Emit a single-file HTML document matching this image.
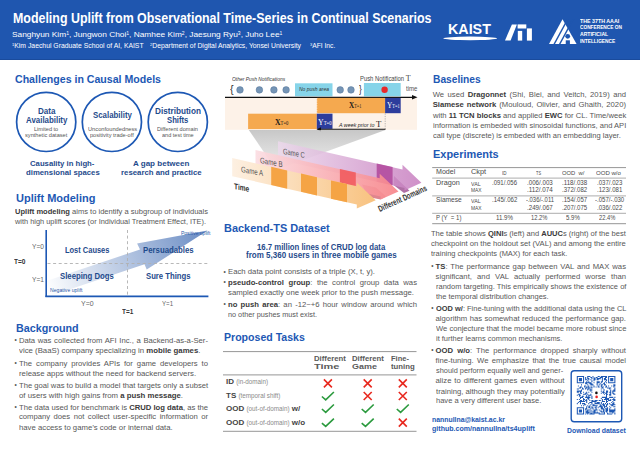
<!DOCTYPE html>
<html><head><meta charset="utf-8"><style>
html,body{margin:0;padding:0;}
body{width:640px;height:453px;position:relative;overflow:hidden;background:#fff;font-family:'Liberation Sans',sans-serif;}
.t{position:absolute;white-space:nowrap;line-height:1;transform-origin:0 0;}
.t b{font-weight:700;color:#3a3a3a;}
svg{position:absolute;left:0;top:0;}
</style></head><body>

<div style="position:absolute;left:0;top:0;width:640px;height:59px;background:#1f56af"></div>
<div style="position:absolute;left:0;top:59px;width:640px;height:1px;background:#1a4b9c"></div>
<svg width="640" height="60" style="position:absolute;left:0;top:0"><ellipse cx="470.2" cy="38.4" rx="26.9" ry="1.8" fill="#fff"/><polygon points="505,40.6 510.6,40.6 516.9,24.4 511.9,24.4" fill="#fff"/><rect x="517.6" y="24.4" width="8.7" height="4.1" fill="#fff"/><rect x="517.8" y="30.9" width="4.4" height="9.7" fill="#fff"/><rect x="526.9" y="28.4" width="5" height="12.2" fill="#fff"/><polygon points="562.5,19.2 549,43.9 576.6,43.9" fill="#fff"/><g fill="#1f56af"><polygon points="553.3,44.2 554.9,44.2 568.6,19 567,19"/><polygon points="558.8,44.2 560.4,44.2 574.1,19 572.5,19"/><circle cx="567.7" cy="36.3" r="2.4"/><rect x="565.75" y="40.3" width="4.15" height="4"/></g></svg>
<svg width="640" height="453"><circle cx="46.2" cy="121.9" r="29.6" fill="none" stroke="#1d58b4" stroke-width="1.7"/><circle cx="111.9" cy="121.9" r="29.6" fill="none" stroke="#1d58b4" stroke-width="1.7"/><circle cx="177.8" cy="121.9" r="29.6" fill="none" stroke="#1d58b4" stroke-width="1.7"/></svg>
<svg width="640" height="453"><defs><linearGradient id="ag" x1="47" y1="292" x2="207" y2="231" gradientUnits="userSpaceOnUse"><stop offset="0" stop-color="#ffffff"/><stop offset="1" stop-color="#6a8cc4"/></linearGradient></defs><polygon points="47,280.7 140,249.5 137.1,243.6 207.6,230.6 146.7,269.5 144.5,264.3 47,296.9" fill="url(#ag)"/><line x1="47.5" y1="263.5" x2="208.5" y2="263.5" stroke="#b0b0b0" stroke-width="0.9" stroke-dasharray="3,2.6"/><line x1="127.5" y1="230" x2="127.5" y2="296" stroke="#b0b0b0" stroke-width="0.9" stroke-dasharray="3,2.6"/><line x1="46.2" y1="230" x2="46.2" y2="297" stroke="#1d58b4" stroke-width="1.6"/><line x1="45.4" y1="296.4" x2="208.4" y2="296.4" stroke="#1d58b4" stroke-width="1.6"/></svg>
<svg width="640" height="453"><defs><linearGradient id="gf" x1="0" y1="0" x2="0" y2="1"><stop offset="0" stop-color="#bdbdbd" stop-opacity="0.85"/><stop offset="1" stop-color="#d8d8d8" stop-opacity="0.5"/></linearGradient><linearGradient id="gc" x1="278" y1="0" x2="421" y2="0" gradientUnits="userSpaceOnUse"><stop offset="0" stop-color="#ecd9ec"/><stop offset="1" stop-color="#c77dbf"/></linearGradient><linearGradient id="gb" x1="255" y1="0" x2="398" y2="0" gradientUnits="userSpaceOnUse"><stop offset="0" stop-color="#fbdde2"/><stop offset="1" stop-color="#f7858a"/></linearGradient><linearGradient id="ga" x1="232" y1="0" x2="376" y2="0" gradientUnits="userSpaceOnUse"><stop offset="0" stop-color="#fdf0e2"/><stop offset="1" stop-color="#f8c27f"/></linearGradient><marker id="mk" markerWidth="4" markerHeight="4" refX="3.5" refY="2" orient="auto"><path d="M0,0 L4,2 L0,4 z" fill="#111"/></marker></defs><rect x="225" y="97.8" width="192" height="32" fill="#fdf2e8"/><rect x="295" y="83.3" width="37.5" height="13" fill="#86d4e9"/><rect x="363.9" y="83" width="36.8" height="13.3" fill="#86d4e9"/><circle cx="240" cy="89.9" r="3.3" fill="#7595b6" stroke="#56779a" stroke-width="0.5"/><circle cx="259.4" cy="89.9" r="3.3" fill="#7595b6" stroke="#56779a" stroke-width="0.5"/><circle cx="273.9" cy="89.9" r="3.3" fill="#7595b6" stroke="#56779a" stroke-width="0.5"/><circle cx="286.1" cy="89.9" r="3.3" fill="#7595b6" stroke="#56779a" stroke-width="0.5"/><circle cx="340.2" cy="89.9" r="3.3" fill="#7595b6" stroke="#56779a" stroke-width="0.5"/><circle cx="351" cy="89.9" r="3.3" fill="#7595b6" stroke="#56779a" stroke-width="0.5"/><circle cx="384.6" cy="89.8" r="3.2" fill="#e8282a"/><line x1="225" y1="97.3" x2="413" y2="97.3" stroke="#111" stroke-width="1.2"/><polygon points="412,95 417.5,97.3 412,99.6" fill="#111"/><rect x="316.8" y="97.9" width="68.3" height="15.3" fill="#f5a94f"/><rect x="385.1" y="97.9" width="15.6" height="15.3" fill="#2d3d9c"/><rect x="248.1" y="113.7" width="68.7" height="15.4" fill="#f5a94f"/><rect x="316.8" y="113.7" width="15.7" height="15.2" fill="#2d3d9c"/><line x1="316.9" y1="98" x2="316.9" y2="113" stroke="#fff" stroke-width="0.6" stroke-dasharray="1.2,1.2"/><line x1="385.2" y1="113.5" x2="385.2" y2="129" stroke="#888" stroke-width="0.6" stroke-dasharray="1.2,1.2"/><line x1="320" y1="129.3" x2="385.5" y2="129.3" stroke="#111" stroke-width="1.1"/><polygon points="321,127.2 316.5,129.3 321,131.4" fill="#111"/><polygon points="248.8,129.9 385.4,129.9 276,170" fill="url(#gf)"/><polygon points="394,176 409.5,190.8 404,193 393.5,185" fill="#9c4c90" opacity="0.8"/><polygon points="278,141.2 402.5,169.5 402.5,164.8 421.4,182.7 404.5,190.6 404.5,188 278,159.5" fill="url(#gc)" opacity="0.85"/><polygon points="376.7,163.4 392.6,167 392.6,185.3 376.7,181.7" fill="#b24d9e" opacity="0.9"/><polygon points="362,184.5 376,187.5 386,196.5 380.6,199.6 368,197" fill="#d9707a" opacity="0.85"/><polygon points="255.5,150 379.7,178.2 379.7,173.7 398.5,191.6 380.6,199.6 380.6,196.5 255.5,168.3" fill="url(#gb)" opacity="0.92"/><polygon points="339.9,169 355.8,172.6 355.8,190.8 339.9,187.2" fill="#f15b5e" opacity="0.9"/><polygon points="232.2,158 356.8,186.3 356.8,182.7 375.7,200.2 356.8,208.5 356.8,204.5 232.2,176.2" fill="url(#ga)"/><polygon points="271.2,166.85 287.2,170.49 287.2,188.69 271.2,185.05" fill="#f5a445"/><polygon points="301,173.62 317,177.25 317,195.45 301,191.82" fill="#f5a445"/><polygon points="331,180.43 347,184.06 347,202.26 331,198.63" fill="#f5a445"/></svg>
<svg width="640" height="453"><line x1="223" y1="351.6" x2="416.5" y2="351.6" stroke="#8a8a8a" stroke-width="0.9"/><line x1="223" y1="374.9" x2="416.5" y2="374.9" stroke="#8a8a8a" stroke-width="0.9"/><line x1="223" y1="431.3" x2="416.5" y2="431.3" stroke="#8a8a8a" stroke-width="0.9"/><path d="M323.9,379.4 L331.9,387.4 M331.9,379.4 L323.9,387.4" fill="none" stroke="#e8281e" stroke-width="1.6"/><path d="M363.7,379.4 L371.7,387.4 M371.7,379.4 L363.7,387.4" fill="none" stroke="#e8281e" stroke-width="1.6"/><path d="M398.8,379.4 L406.8,387.4 M406.8,379.4 L398.8,387.4" fill="none" stroke="#e8281e" stroke-width="1.6"/><path d="M321.9,396.5 L325.7,399.8 L333.9,392" fill="none" stroke="#2b9a3e" stroke-width="1.6"/><path d="M363.7,392 L371.7,400 M371.7,392 L363.7,400" fill="none" stroke="#e8281e" stroke-width="1.6"/><path d="M398.8,392 L406.8,400 M406.8,392 L398.8,400" fill="none" stroke="#e8281e" stroke-width="1.6"/><path d="M321.9,409.0 L325.7,412.3 L333.9,404.5" fill="none" stroke="#2b9a3e" stroke-width="1.6"/><path d="M361.7,409.0 L365.5,412.3 L373.7,404.5" fill="none" stroke="#2b9a3e" stroke-width="1.6"/><path d="M396.8,409.0 L400.6,412.3 L408.8,404.5" fill="none" stroke="#2b9a3e" stroke-width="1.6"/><path d="M321.9,423.1 L325.7,426.40000000000003 L333.9,418.6" fill="none" stroke="#2b9a3e" stroke-width="1.6"/><path d="M361.7,423.1 L365.5,426.40000000000003 L373.7,418.6" fill="none" stroke="#2b9a3e" stroke-width="1.6"/><path d="M398.8,418.6 L406.8,426.6 M406.8,418.6 L398.8,426.6" fill="none" stroke="#e8281e" stroke-width="1.6"/></svg>
<svg width="640" height="453"><line x1="432.2" y1="167.6" x2="626" y2="167.6" stroke="#8a8a8a" stroke-width="0.9"/><line x1="432.2" y1="178.1" x2="626" y2="178.1" stroke="#8a8a8a" stroke-width="0.7"/><line x1="432.2" y1="195.9" x2="626" y2="195.9" stroke="#8a8a8a" stroke-width="0.7"/><line x1="432.2" y1="213.3" x2="626" y2="213.3" stroke="#8a8a8a" stroke-width="0.7"/><line x1="432.2" y1="223.7" x2="626" y2="223.7" stroke="#8a8a8a" stroke-width="0.9"/></svg>
<svg width="640" height="453"><rect x="571.2" y="370.8" width="50.5" height="51" rx="3" fill="none" stroke="#1d58b4" stroke-width="1.4"/><path d="M576.80,376.00h1.04v1.04h-1.04zM577.84,376.00h1.04v1.04h-1.04zM578.89,376.00h1.04v1.04h-1.04zM579.93,376.00h1.04v1.04h-1.04zM580.97,376.00h1.04v1.04h-1.04zM582.02,376.00h1.04v1.04h-1.04zM583.06,376.00h1.04v1.04h-1.04zM587.23,376.00h1.04v1.04h-1.04zM588.28,376.00h1.04v1.04h-1.04zM589.32,376.00h1.04v1.04h-1.04zM592.45,376.00h1.04v1.04h-1.04zM597.66,376.00h1.04v1.04h-1.04zM598.71,376.00h1.04v1.04h-1.04zM600.79,376.00h1.04v1.04h-1.04zM601.84,376.00h1.04v1.04h-1.04zM602.88,376.00h1.04v1.04h-1.04zM603.92,376.00h1.04v1.04h-1.04zM604.97,376.00h1.04v1.04h-1.04zM606.01,376.00h1.04v1.04h-1.04zM608.10,376.00h1.04v1.04h-1.04zM609.14,376.00h1.04v1.04h-1.04zM610.18,376.00h1.04v1.04h-1.04zM611.23,376.00h1.04v1.04h-1.04zM612.27,376.00h1.04v1.04h-1.04zM613.31,376.00h1.04v1.04h-1.04zM614.36,376.00h1.04v1.04h-1.04zM576.80,377.04h1.04v1.04h-1.04zM583.06,377.04h1.04v1.04h-1.04zM585.15,377.04h1.04v1.04h-1.04zM587.23,377.04h1.04v1.04h-1.04zM590.36,377.04h1.04v1.04h-1.04zM591.41,377.04h1.04v1.04h-1.04zM593.49,377.04h1.04v1.04h-1.04zM595.58,377.04h1.04v1.04h-1.04zM596.62,377.04h1.04v1.04h-1.04zM599.75,377.04h1.04v1.04h-1.04zM600.79,377.04h1.04v1.04h-1.04zM601.84,377.04h1.04v1.04h-1.04zM604.97,377.04h1.04v1.04h-1.04zM606.01,377.04h1.04v1.04h-1.04zM608.10,377.04h1.04v1.04h-1.04zM614.36,377.04h1.04v1.04h-1.04zM576.80,378.09h1.04v1.04h-1.04zM578.89,378.09h1.04v1.04h-1.04zM579.93,378.09h1.04v1.04h-1.04zM580.97,378.09h1.04v1.04h-1.04zM583.06,378.09h1.04v1.04h-1.04zM585.15,378.09h1.04v1.04h-1.04zM587.23,378.09h1.04v1.04h-1.04zM588.28,378.09h1.04v1.04h-1.04zM591.41,378.09h1.04v1.04h-1.04zM593.49,378.09h1.04v1.04h-1.04zM594.54,378.09h1.04v1.04h-1.04zM596.62,378.09h1.04v1.04h-1.04zM597.66,378.09h1.04v1.04h-1.04zM598.71,378.09h1.04v1.04h-1.04zM599.75,378.09h1.04v1.04h-1.04zM601.84,378.09h1.04v1.04h-1.04zM603.92,378.09h1.04v1.04h-1.04zM604.97,378.09h1.04v1.04h-1.04zM608.10,378.09h1.04v1.04h-1.04zM610.18,378.09h1.04v1.04h-1.04zM611.23,378.09h1.04v1.04h-1.04zM612.27,378.09h1.04v1.04h-1.04zM614.36,378.09h1.04v1.04h-1.04zM576.80,379.13h1.04v1.04h-1.04zM578.89,379.13h1.04v1.04h-1.04zM579.93,379.13h1.04v1.04h-1.04zM580.97,379.13h1.04v1.04h-1.04zM583.06,379.13h1.04v1.04h-1.04zM585.15,379.13h1.04v1.04h-1.04zM586.19,379.13h1.04v1.04h-1.04zM588.28,379.13h1.04v1.04h-1.04zM590.36,379.13h1.04v1.04h-1.04zM593.49,379.13h1.04v1.04h-1.04zM594.54,379.13h1.04v1.04h-1.04zM596.62,379.13h1.04v1.04h-1.04zM597.66,379.13h1.04v1.04h-1.04zM601.84,379.13h1.04v1.04h-1.04zM603.92,379.13h1.04v1.04h-1.04zM604.97,379.13h1.04v1.04h-1.04zM606.01,379.13h1.04v1.04h-1.04zM608.10,379.13h1.04v1.04h-1.04zM610.18,379.13h1.04v1.04h-1.04zM611.23,379.13h1.04v1.04h-1.04zM612.27,379.13h1.04v1.04h-1.04zM614.36,379.13h1.04v1.04h-1.04zM576.80,380.17h1.04v1.04h-1.04zM578.89,380.17h1.04v1.04h-1.04zM579.93,380.17h1.04v1.04h-1.04zM580.97,380.17h1.04v1.04h-1.04zM583.06,380.17h1.04v1.04h-1.04zM587.23,380.17h1.04v1.04h-1.04zM591.41,380.17h1.04v1.04h-1.04zM593.49,380.17h1.04v1.04h-1.04zM601.84,380.17h1.04v1.04h-1.04zM606.01,380.17h1.04v1.04h-1.04zM608.10,380.17h1.04v1.04h-1.04zM610.18,380.17h1.04v1.04h-1.04zM611.23,380.17h1.04v1.04h-1.04zM612.27,380.17h1.04v1.04h-1.04zM614.36,380.17h1.04v1.04h-1.04zM576.80,381.22h1.04v1.04h-1.04zM583.06,381.22h1.04v1.04h-1.04zM586.19,381.22h1.04v1.04h-1.04zM588.28,381.22h1.04v1.04h-1.04zM591.41,381.22h1.04v1.04h-1.04zM596.62,381.22h1.04v1.04h-1.04zM597.66,381.22h1.04v1.04h-1.04zM598.71,381.22h1.04v1.04h-1.04zM600.79,381.22h1.04v1.04h-1.04zM601.84,381.22h1.04v1.04h-1.04zM604.97,381.22h1.04v1.04h-1.04zM608.10,381.22h1.04v1.04h-1.04zM614.36,381.22h1.04v1.04h-1.04zM576.80,382.26h1.04v1.04h-1.04zM577.84,382.26h1.04v1.04h-1.04zM578.89,382.26h1.04v1.04h-1.04zM579.93,382.26h1.04v1.04h-1.04zM580.97,382.26h1.04v1.04h-1.04zM582.02,382.26h1.04v1.04h-1.04zM583.06,382.26h1.04v1.04h-1.04zM585.15,382.26h1.04v1.04h-1.04zM586.19,382.26h1.04v1.04h-1.04zM587.23,382.26h1.04v1.04h-1.04zM588.28,382.26h1.04v1.04h-1.04zM589.32,382.26h1.04v1.04h-1.04zM590.36,382.26h1.04v1.04h-1.04zM593.49,382.26h1.04v1.04h-1.04zM596.62,382.26h1.04v1.04h-1.04zM597.66,382.26h1.04v1.04h-1.04zM598.71,382.26h1.04v1.04h-1.04zM600.79,382.26h1.04v1.04h-1.04zM603.92,382.26h1.04v1.04h-1.04zM606.01,382.26h1.04v1.04h-1.04zM608.10,382.26h1.04v1.04h-1.04zM609.14,382.26h1.04v1.04h-1.04zM610.18,382.26h1.04v1.04h-1.04zM611.23,382.26h1.04v1.04h-1.04zM612.27,382.26h1.04v1.04h-1.04zM613.31,382.26h1.04v1.04h-1.04zM614.36,382.26h1.04v1.04h-1.04zM585.15,383.30h1.04v1.04h-1.04zM586.19,383.30h1.04v1.04h-1.04zM589.32,383.30h1.04v1.04h-1.04zM590.36,383.30h1.04v1.04h-1.04zM591.41,383.30h1.04v1.04h-1.04zM596.62,383.30h1.04v1.04h-1.04zM599.75,383.30h1.04v1.04h-1.04zM602.88,383.30h1.04v1.04h-1.04zM603.92,383.30h1.04v1.04h-1.04zM580.97,384.35h1.04v1.04h-1.04zM587.23,384.35h1.04v1.04h-1.04zM590.36,384.35h1.04v1.04h-1.04zM591.41,384.35h1.04v1.04h-1.04zM592.45,384.35h1.04v1.04h-1.04zM596.62,384.35h1.04v1.04h-1.04zM598.71,384.35h1.04v1.04h-1.04zM600.79,384.35h1.04v1.04h-1.04zM601.84,384.35h1.04v1.04h-1.04zM603.92,384.35h1.04v1.04h-1.04zM604.97,384.35h1.04v1.04h-1.04zM613.31,384.35h1.04v1.04h-1.04zM614.36,384.35h1.04v1.04h-1.04zM577.84,385.39h1.04v1.04h-1.04zM584.10,385.39h1.04v1.04h-1.04zM585.15,385.39h1.04v1.04h-1.04zM588.28,385.39h1.04v1.04h-1.04zM593.49,385.39h1.04v1.04h-1.04zM597.66,385.39h1.04v1.04h-1.04zM600.79,385.39h1.04v1.04h-1.04zM606.01,385.39h1.04v1.04h-1.04zM608.10,385.39h1.04v1.04h-1.04zM611.23,385.39h1.04v1.04h-1.04zM613.31,385.39h1.04v1.04h-1.04zM614.36,385.39h1.04v1.04h-1.04zM579.93,386.43h1.04v1.04h-1.04zM580.97,386.43h1.04v1.04h-1.04zM584.10,386.43h1.04v1.04h-1.04zM586.19,386.43h1.04v1.04h-1.04zM587.23,386.43h1.04v1.04h-1.04zM588.28,386.43h1.04v1.04h-1.04zM590.36,386.43h1.04v1.04h-1.04zM591.41,386.43h1.04v1.04h-1.04zM593.49,386.43h1.04v1.04h-1.04zM595.58,386.43h1.04v1.04h-1.04zM597.66,386.43h1.04v1.04h-1.04zM598.71,386.43h1.04v1.04h-1.04zM600.79,386.43h1.04v1.04h-1.04zM601.84,386.43h1.04v1.04h-1.04zM602.88,386.43h1.04v1.04h-1.04zM604.97,386.43h1.04v1.04h-1.04zM606.01,386.43h1.04v1.04h-1.04zM613.31,386.43h1.04v1.04h-1.04zM578.89,387.48h1.04v1.04h-1.04zM579.93,387.48h1.04v1.04h-1.04zM582.02,387.48h1.04v1.04h-1.04zM585.15,387.48h1.04v1.04h-1.04zM586.19,387.48h1.04v1.04h-1.04zM588.28,387.48h1.04v1.04h-1.04zM589.32,387.48h1.04v1.04h-1.04zM591.41,387.48h1.04v1.04h-1.04zM601.84,387.48h1.04v1.04h-1.04zM607.05,387.48h1.04v1.04h-1.04zM608.10,387.48h1.04v1.04h-1.04zM609.14,387.48h1.04v1.04h-1.04zM610.18,387.48h1.04v1.04h-1.04zM614.36,387.48h1.04v1.04h-1.04zM576.80,388.52h1.04v1.04h-1.04zM577.84,388.52h1.04v1.04h-1.04zM582.02,388.52h1.04v1.04h-1.04zM583.06,388.52h1.04v1.04h-1.04zM585.15,388.52h1.04v1.04h-1.04zM587.23,388.52h1.04v1.04h-1.04zM588.28,388.52h1.04v1.04h-1.04zM590.36,388.52h1.04v1.04h-1.04zM600.79,388.52h1.04v1.04h-1.04zM602.88,388.52h1.04v1.04h-1.04zM609.14,388.52h1.04v1.04h-1.04zM614.36,388.52h1.04v1.04h-1.04zM580.97,389.56h1.04v1.04h-1.04zM587.23,389.56h1.04v1.04h-1.04zM589.32,389.56h1.04v1.04h-1.04zM590.36,389.56h1.04v1.04h-1.04zM591.41,389.56h1.04v1.04h-1.04zM603.92,389.56h1.04v1.04h-1.04zM610.18,389.56h1.04v1.04h-1.04zM613.31,389.56h1.04v1.04h-1.04zM614.36,389.56h1.04v1.04h-1.04zM576.80,390.61h1.04v1.04h-1.04zM577.84,390.61h1.04v1.04h-1.04zM578.89,390.61h1.04v1.04h-1.04zM579.93,390.61h1.04v1.04h-1.04zM580.97,390.61h1.04v1.04h-1.04zM590.36,390.61h1.04v1.04h-1.04zM600.79,390.61h1.04v1.04h-1.04zM602.88,390.61h1.04v1.04h-1.04zM606.01,390.61h1.04v1.04h-1.04zM607.05,390.61h1.04v1.04h-1.04zM610.18,390.61h1.04v1.04h-1.04zM612.27,390.61h1.04v1.04h-1.04zM613.31,390.61h1.04v1.04h-1.04zM614.36,390.61h1.04v1.04h-1.04zM576.80,391.65h1.04v1.04h-1.04zM577.84,391.65h1.04v1.04h-1.04zM579.93,391.65h1.04v1.04h-1.04zM583.06,391.65h1.04v1.04h-1.04zM586.19,391.65h1.04v1.04h-1.04zM588.28,391.65h1.04v1.04h-1.04zM591.41,391.65h1.04v1.04h-1.04zM601.84,391.65h1.04v1.04h-1.04zM602.88,391.65h1.04v1.04h-1.04zM603.92,391.65h1.04v1.04h-1.04zM606.01,391.65h1.04v1.04h-1.04zM607.05,391.65h1.04v1.04h-1.04zM609.14,391.65h1.04v1.04h-1.04zM610.18,391.65h1.04v1.04h-1.04zM612.27,391.65h1.04v1.04h-1.04zM579.93,392.69h1.04v1.04h-1.04zM580.97,392.69h1.04v1.04h-1.04zM585.15,392.69h1.04v1.04h-1.04zM586.19,392.69h1.04v1.04h-1.04zM600.79,392.69h1.04v1.04h-1.04zM602.88,392.69h1.04v1.04h-1.04zM604.97,392.69h1.04v1.04h-1.04zM606.01,392.69h1.04v1.04h-1.04zM610.18,392.69h1.04v1.04h-1.04zM612.27,392.69h1.04v1.04h-1.04zM613.31,392.69h1.04v1.04h-1.04zM577.84,393.74h1.04v1.04h-1.04zM578.89,393.74h1.04v1.04h-1.04zM583.06,393.74h1.04v1.04h-1.04zM584.10,393.74h1.04v1.04h-1.04zM585.15,393.74h1.04v1.04h-1.04zM587.23,393.74h1.04v1.04h-1.04zM590.36,393.74h1.04v1.04h-1.04zM603.92,393.74h1.04v1.04h-1.04zM606.01,393.74h1.04v1.04h-1.04zM607.05,393.74h1.04v1.04h-1.04zM609.14,393.74h1.04v1.04h-1.04zM610.18,393.74h1.04v1.04h-1.04zM613.31,393.74h1.04v1.04h-1.04zM614.36,393.74h1.04v1.04h-1.04zM576.80,394.78h1.04v1.04h-1.04zM578.89,394.78h1.04v1.04h-1.04zM579.93,394.78h1.04v1.04h-1.04zM586.19,394.78h1.04v1.04h-1.04zM588.28,394.78h1.04v1.04h-1.04zM589.32,394.78h1.04v1.04h-1.04zM590.36,394.78h1.04v1.04h-1.04zM606.01,394.78h1.04v1.04h-1.04zM609.14,394.78h1.04v1.04h-1.04zM610.18,394.78h1.04v1.04h-1.04zM578.89,395.82h1.04v1.04h-1.04zM582.02,395.82h1.04v1.04h-1.04zM583.06,395.82h1.04v1.04h-1.04zM586.19,395.82h1.04v1.04h-1.04zM588.28,395.82h1.04v1.04h-1.04zM591.41,395.82h1.04v1.04h-1.04zM606.01,395.82h1.04v1.04h-1.04zM579.93,396.86h1.04v1.04h-1.04zM580.97,396.86h1.04v1.04h-1.04zM582.02,396.86h1.04v1.04h-1.04zM585.15,396.86h1.04v1.04h-1.04zM586.19,396.86h1.04v1.04h-1.04zM587.23,396.86h1.04v1.04h-1.04zM588.28,396.86h1.04v1.04h-1.04zM589.32,396.86h1.04v1.04h-1.04zM591.41,396.86h1.04v1.04h-1.04zM601.84,396.86h1.04v1.04h-1.04zM602.88,396.86h1.04v1.04h-1.04zM603.92,396.86h1.04v1.04h-1.04zM604.97,396.86h1.04v1.04h-1.04zM606.01,396.86h1.04v1.04h-1.04zM609.14,396.86h1.04v1.04h-1.04zM610.18,396.86h1.04v1.04h-1.04zM611.23,396.86h1.04v1.04h-1.04zM612.27,396.86h1.04v1.04h-1.04zM614.36,396.86h1.04v1.04h-1.04zM579.93,397.91h1.04v1.04h-1.04zM583.06,397.91h1.04v1.04h-1.04zM587.23,397.91h1.04v1.04h-1.04zM588.28,397.91h1.04v1.04h-1.04zM591.41,397.91h1.04v1.04h-1.04zM600.79,397.91h1.04v1.04h-1.04zM604.97,397.91h1.04v1.04h-1.04zM606.01,397.91h1.04v1.04h-1.04zM607.05,397.91h1.04v1.04h-1.04zM608.10,397.91h1.04v1.04h-1.04zM613.31,397.91h1.04v1.04h-1.04zM576.80,398.95h1.04v1.04h-1.04zM578.89,398.95h1.04v1.04h-1.04zM583.06,398.95h1.04v1.04h-1.04zM584.10,398.95h1.04v1.04h-1.04zM586.19,398.95h1.04v1.04h-1.04zM588.28,398.95h1.04v1.04h-1.04zM601.84,398.95h1.04v1.04h-1.04zM603.92,398.95h1.04v1.04h-1.04zM604.97,398.95h1.04v1.04h-1.04zM606.01,398.95h1.04v1.04h-1.04zM607.05,398.95h1.04v1.04h-1.04zM608.10,398.95h1.04v1.04h-1.04zM610.18,398.95h1.04v1.04h-1.04zM612.27,398.95h1.04v1.04h-1.04zM613.31,398.95h1.04v1.04h-1.04zM614.36,398.95h1.04v1.04h-1.04zM579.93,399.99h1.04v1.04h-1.04zM580.97,399.99h1.04v1.04h-1.04zM583.06,399.99h1.04v1.04h-1.04zM585.15,399.99h1.04v1.04h-1.04zM586.19,399.99h1.04v1.04h-1.04zM589.32,399.99h1.04v1.04h-1.04zM591.41,399.99h1.04v1.04h-1.04zM592.45,399.99h1.04v1.04h-1.04zM594.54,399.99h1.04v1.04h-1.04zM595.58,399.99h1.04v1.04h-1.04zM596.62,399.99h1.04v1.04h-1.04zM598.71,399.99h1.04v1.04h-1.04zM599.75,399.99h1.04v1.04h-1.04zM601.84,399.99h1.04v1.04h-1.04zM606.01,399.99h1.04v1.04h-1.04zM608.10,399.99h1.04v1.04h-1.04zM609.14,399.99h1.04v1.04h-1.04zM610.18,399.99h1.04v1.04h-1.04zM613.31,399.99h1.04v1.04h-1.04zM614.36,399.99h1.04v1.04h-1.04zM578.89,401.04h1.04v1.04h-1.04zM579.93,401.04h1.04v1.04h-1.04zM580.97,401.04h1.04v1.04h-1.04zM582.02,401.04h1.04v1.04h-1.04zM583.06,401.04h1.04v1.04h-1.04zM584.10,401.04h1.04v1.04h-1.04zM586.19,401.04h1.04v1.04h-1.04zM591.41,401.04h1.04v1.04h-1.04zM592.45,401.04h1.04v1.04h-1.04zM593.49,401.04h1.04v1.04h-1.04zM594.54,401.04h1.04v1.04h-1.04zM595.58,401.04h1.04v1.04h-1.04zM601.84,401.04h1.04v1.04h-1.04zM602.88,401.04h1.04v1.04h-1.04zM603.92,401.04h1.04v1.04h-1.04zM606.01,401.04h1.04v1.04h-1.04zM607.05,401.04h1.04v1.04h-1.04zM612.27,401.04h1.04v1.04h-1.04zM577.84,402.08h1.04v1.04h-1.04zM579.93,402.08h1.04v1.04h-1.04zM586.19,402.08h1.04v1.04h-1.04zM589.32,402.08h1.04v1.04h-1.04zM590.36,402.08h1.04v1.04h-1.04zM591.41,402.08h1.04v1.04h-1.04zM594.54,402.08h1.04v1.04h-1.04zM596.62,402.08h1.04v1.04h-1.04zM597.66,402.08h1.04v1.04h-1.04zM598.71,402.08h1.04v1.04h-1.04zM600.79,402.08h1.04v1.04h-1.04zM606.01,402.08h1.04v1.04h-1.04zM611.23,402.08h1.04v1.04h-1.04zM613.31,402.08h1.04v1.04h-1.04zM576.80,403.12h1.04v1.04h-1.04zM579.93,403.12h1.04v1.04h-1.04zM582.02,403.12h1.04v1.04h-1.04zM583.06,403.12h1.04v1.04h-1.04zM584.10,403.12h1.04v1.04h-1.04zM588.28,403.12h1.04v1.04h-1.04zM591.41,403.12h1.04v1.04h-1.04zM594.54,403.12h1.04v1.04h-1.04zM595.58,403.12h1.04v1.04h-1.04zM596.62,403.12h1.04v1.04h-1.04zM597.66,403.12h1.04v1.04h-1.04zM598.71,403.12h1.04v1.04h-1.04zM600.79,403.12h1.04v1.04h-1.04zM602.88,403.12h1.04v1.04h-1.04zM604.97,403.12h1.04v1.04h-1.04zM607.05,403.12h1.04v1.04h-1.04zM609.14,403.12h1.04v1.04h-1.04zM612.27,403.12h1.04v1.04h-1.04zM613.31,403.12h1.04v1.04h-1.04zM584.10,404.17h1.04v1.04h-1.04zM585.15,404.17h1.04v1.04h-1.04zM590.36,404.17h1.04v1.04h-1.04zM592.45,404.17h1.04v1.04h-1.04zM593.49,404.17h1.04v1.04h-1.04zM599.75,404.17h1.04v1.04h-1.04zM601.84,404.17h1.04v1.04h-1.04zM602.88,404.17h1.04v1.04h-1.04zM603.92,404.17h1.04v1.04h-1.04zM606.01,404.17h1.04v1.04h-1.04zM607.05,404.17h1.04v1.04h-1.04zM610.18,404.17h1.04v1.04h-1.04zM611.23,404.17h1.04v1.04h-1.04zM612.27,404.17h1.04v1.04h-1.04zM613.31,404.17h1.04v1.04h-1.04zM614.36,404.17h1.04v1.04h-1.04zM580.97,405.21h1.04v1.04h-1.04zM583.06,405.21h1.04v1.04h-1.04zM587.23,405.21h1.04v1.04h-1.04zM589.32,405.21h1.04v1.04h-1.04zM592.45,405.21h1.04v1.04h-1.04zM593.49,405.21h1.04v1.04h-1.04zM594.54,405.21h1.04v1.04h-1.04zM595.58,405.21h1.04v1.04h-1.04zM596.62,405.21h1.04v1.04h-1.04zM599.75,405.21h1.04v1.04h-1.04zM600.79,405.21h1.04v1.04h-1.04zM602.88,405.21h1.04v1.04h-1.04zM603.92,405.21h1.04v1.04h-1.04zM606.01,405.21h1.04v1.04h-1.04zM611.23,405.21h1.04v1.04h-1.04zM612.27,405.21h1.04v1.04h-1.04zM586.19,406.25h1.04v1.04h-1.04zM588.28,406.25h1.04v1.04h-1.04zM589.32,406.25h1.04v1.04h-1.04zM591.41,406.25h1.04v1.04h-1.04zM595.58,406.25h1.04v1.04h-1.04zM598.71,406.25h1.04v1.04h-1.04zM599.75,406.25h1.04v1.04h-1.04zM600.79,406.25h1.04v1.04h-1.04zM601.84,406.25h1.04v1.04h-1.04zM603.92,406.25h1.04v1.04h-1.04zM604.97,406.25h1.04v1.04h-1.04zM606.01,406.25h1.04v1.04h-1.04zM609.14,406.25h1.04v1.04h-1.04zM613.31,406.25h1.04v1.04h-1.04zM614.36,406.25h1.04v1.04h-1.04zM576.80,407.30h1.04v1.04h-1.04zM577.84,407.30h1.04v1.04h-1.04zM578.89,407.30h1.04v1.04h-1.04zM579.93,407.30h1.04v1.04h-1.04zM580.97,407.30h1.04v1.04h-1.04zM582.02,407.30h1.04v1.04h-1.04zM583.06,407.30h1.04v1.04h-1.04zM586.19,407.30h1.04v1.04h-1.04zM588.28,407.30h1.04v1.04h-1.04zM589.32,407.30h1.04v1.04h-1.04zM591.41,407.30h1.04v1.04h-1.04zM592.45,407.30h1.04v1.04h-1.04zM594.54,407.30h1.04v1.04h-1.04zM595.58,407.30h1.04v1.04h-1.04zM597.66,407.30h1.04v1.04h-1.04zM600.79,407.30h1.04v1.04h-1.04zM601.84,407.30h1.04v1.04h-1.04zM603.92,407.30h1.04v1.04h-1.04zM607.05,407.30h1.04v1.04h-1.04zM610.18,407.30h1.04v1.04h-1.04zM576.80,408.34h1.04v1.04h-1.04zM583.06,408.34h1.04v1.04h-1.04zM585.15,408.34h1.04v1.04h-1.04zM586.19,408.34h1.04v1.04h-1.04zM590.36,408.34h1.04v1.04h-1.04zM592.45,408.34h1.04v1.04h-1.04zM595.58,408.34h1.04v1.04h-1.04zM600.79,408.34h1.04v1.04h-1.04zM601.84,408.34h1.04v1.04h-1.04zM602.88,408.34h1.04v1.04h-1.04zM604.97,408.34h1.04v1.04h-1.04zM606.01,408.34h1.04v1.04h-1.04zM607.05,408.34h1.04v1.04h-1.04zM609.14,408.34h1.04v1.04h-1.04zM614.36,408.34h1.04v1.04h-1.04zM576.80,409.38h1.04v1.04h-1.04zM578.89,409.38h1.04v1.04h-1.04zM579.93,409.38h1.04v1.04h-1.04zM580.97,409.38h1.04v1.04h-1.04zM583.06,409.38h1.04v1.04h-1.04zM585.15,409.38h1.04v1.04h-1.04zM587.23,409.38h1.04v1.04h-1.04zM588.28,409.38h1.04v1.04h-1.04zM589.32,409.38h1.04v1.04h-1.04zM593.49,409.38h1.04v1.04h-1.04zM594.54,409.38h1.04v1.04h-1.04zM595.58,409.38h1.04v1.04h-1.04zM596.62,409.38h1.04v1.04h-1.04zM598.71,409.38h1.04v1.04h-1.04zM602.88,409.38h1.04v1.04h-1.04zM603.92,409.38h1.04v1.04h-1.04zM606.01,409.38h1.04v1.04h-1.04zM607.05,409.38h1.04v1.04h-1.04zM609.14,409.38h1.04v1.04h-1.04zM610.18,409.38h1.04v1.04h-1.04zM611.23,409.38h1.04v1.04h-1.04zM612.27,409.38h1.04v1.04h-1.04zM613.31,409.38h1.04v1.04h-1.04zM614.36,409.38h1.04v1.04h-1.04zM576.80,410.43h1.04v1.04h-1.04zM578.89,410.43h1.04v1.04h-1.04zM579.93,410.43h1.04v1.04h-1.04zM580.97,410.43h1.04v1.04h-1.04zM583.06,410.43h1.04v1.04h-1.04zM586.19,410.43h1.04v1.04h-1.04zM587.23,410.43h1.04v1.04h-1.04zM590.36,410.43h1.04v1.04h-1.04zM591.41,410.43h1.04v1.04h-1.04zM593.49,410.43h1.04v1.04h-1.04zM594.54,410.43h1.04v1.04h-1.04zM599.75,410.43h1.04v1.04h-1.04zM600.79,410.43h1.04v1.04h-1.04zM602.88,410.43h1.04v1.04h-1.04zM604.97,410.43h1.04v1.04h-1.04zM606.01,410.43h1.04v1.04h-1.04zM607.05,410.43h1.04v1.04h-1.04zM609.14,410.43h1.04v1.04h-1.04zM610.18,410.43h1.04v1.04h-1.04zM611.23,410.43h1.04v1.04h-1.04zM612.27,410.43h1.04v1.04h-1.04zM613.31,410.43h1.04v1.04h-1.04zM614.36,410.43h1.04v1.04h-1.04zM576.80,411.47h1.04v1.04h-1.04zM578.89,411.47h1.04v1.04h-1.04zM579.93,411.47h1.04v1.04h-1.04zM580.97,411.47h1.04v1.04h-1.04zM583.06,411.47h1.04v1.04h-1.04zM585.15,411.47h1.04v1.04h-1.04zM586.19,411.47h1.04v1.04h-1.04zM587.23,411.47h1.04v1.04h-1.04zM588.28,411.47h1.04v1.04h-1.04zM589.32,411.47h1.04v1.04h-1.04zM592.45,411.47h1.04v1.04h-1.04zM593.49,411.47h1.04v1.04h-1.04zM594.54,411.47h1.04v1.04h-1.04zM596.62,411.47h1.04v1.04h-1.04zM600.79,411.47h1.04v1.04h-1.04zM601.84,411.47h1.04v1.04h-1.04zM602.88,411.47h1.04v1.04h-1.04zM603.92,411.47h1.04v1.04h-1.04zM606.01,411.47h1.04v1.04h-1.04zM609.14,411.47h1.04v1.04h-1.04zM610.18,411.47h1.04v1.04h-1.04zM611.23,411.47h1.04v1.04h-1.04zM612.27,411.47h1.04v1.04h-1.04zM613.31,411.47h1.04v1.04h-1.04zM576.80,412.51h1.04v1.04h-1.04zM583.06,412.51h1.04v1.04h-1.04zM586.19,412.51h1.04v1.04h-1.04zM587.23,412.51h1.04v1.04h-1.04zM588.28,412.51h1.04v1.04h-1.04zM590.36,412.51h1.04v1.04h-1.04zM591.41,412.51h1.04v1.04h-1.04zM593.49,412.51h1.04v1.04h-1.04zM594.54,412.51h1.04v1.04h-1.04zM595.58,412.51h1.04v1.04h-1.04zM596.62,412.51h1.04v1.04h-1.04zM597.66,412.51h1.04v1.04h-1.04zM598.71,412.51h1.04v1.04h-1.04zM603.92,412.51h1.04v1.04h-1.04zM607.05,412.51h1.04v1.04h-1.04zM612.27,412.51h1.04v1.04h-1.04zM614.36,412.51h1.04v1.04h-1.04zM576.80,413.56h1.04v1.04h-1.04zM577.84,413.56h1.04v1.04h-1.04zM578.89,413.56h1.04v1.04h-1.04zM579.93,413.56h1.04v1.04h-1.04zM580.97,413.56h1.04v1.04h-1.04zM582.02,413.56h1.04v1.04h-1.04zM583.06,413.56h1.04v1.04h-1.04zM585.15,413.56h1.04v1.04h-1.04zM587.23,413.56h1.04v1.04h-1.04zM589.32,413.56h1.04v1.04h-1.04zM590.36,413.56h1.04v1.04h-1.04zM591.41,413.56h1.04v1.04h-1.04zM592.45,413.56h1.04v1.04h-1.04zM593.49,413.56h1.04v1.04h-1.04zM598.71,413.56h1.04v1.04h-1.04zM599.75,413.56h1.04v1.04h-1.04zM600.79,413.56h1.04v1.04h-1.04zM601.84,413.56h1.04v1.04h-1.04zM602.88,413.56h1.04v1.04h-1.04zM603.92,413.56h1.04v1.04h-1.04zM607.05,413.56h1.04v1.04h-1.04zM608.10,413.56h1.04v1.04h-1.04zM609.14,413.56h1.04v1.04h-1.04zM610.18,413.56h1.04v1.04h-1.04zM611.23,413.56h1.04v1.04h-1.04zM614.36,413.56h1.04v1.04h-1.04z" fill="#1d58b4"/><circle cx="596.4" cy="392.9" r="1.3" fill="#111"/><circle cx="596.6" cy="396.9" r="1.3" fill="#e22"/></svg>
<div class="t" id="t0" style="left:13.00px;top:11.45px;font-size:14.3px;font-weight:700;color:#fff;transform:scaleX(0.8683);">Modeling Uplift from Observational Time-Series in Continual Scenarios</div>
<div class="t" id="t1" style="left:12.20px;top:31.04px;font-size:7.6px;font-weight:400;color:#fff;transform:scaleX(1.0963);">Sanghyun Kim<span style="font-size:0.6em;vertical-align:0.55em">1</span>, Jungwon Choi<span style="font-size:0.6em;vertical-align:0.55em">1</span>, Namhee Kim<span style="font-size:0.6em;vertical-align:0.55em">2</span>, Jaesung Ryu<span style="font-size:0.6em;vertical-align:0.55em">3</span>, Juho Lee<span style="font-size:0.6em;vertical-align:0.55em">1</span></div>
<div class="t" id="t2" style="left:12.00px;top:42.56px;font-size:6.4px;font-weight:400;color:#fff;transform:scaleX(1.0675);"><span style="font-size:0.6em;vertical-align:0.55em">1</span>Kim Jaechul Graduate School of AI, KAIST</div>
<div class="t" id="t3" style="left:150.30px;top:42.56px;font-size:6.4px;font-weight:400;color:#fff;transform:scaleX(1.0680);"><span style="font-size:0.6em;vertical-align:0.55em">2</span>Department of Digital Analytics, Yonsei University</div>
<div class="t" id="t4" style="left:309.70px;top:42.56px;font-size:6.4px;font-weight:400;color:#fff;transform:scaleX(1.0467);"><span style="font-size:0.6em;vertical-align:0.55em">3</span>AFI Inc.</div>
<div class="t" id="t5" style="left:448.10px;top:22.59px;font-size:13.9px;font-weight:700;color:#fff;transform:scaleX(1.0291);">KAIST</div>
<div class="t" id="t6" style="left:580.30px;top:18.55px;font-size:5.0px;font-weight:700;color:#fff;transform:scaleX(1.0581);">THE 37TH AAAI</div>
<div class="t" id="t7" style="left:580.30px;top:25.40px;font-size:5.0px;font-weight:700;color:#fff;transform:scaleX(0.9543);">CONFERENCE ON</div>
<div class="t" id="t8" style="left:580.30px;top:32.25px;font-size:5.0px;font-weight:700;color:#fff;transform:scaleX(1.0151);">ARTIFICIAL</div>
<div class="t" id="t9" style="left:580.30px;top:39.10px;font-size:5.0px;font-weight:700;color:#fff;transform:scaleX(0.9599);">INTELLIGENCE</div>
<div class="t" id="t10" style="left:15.00px;top:73.72px;font-size:10.8px;font-weight:700;color:#1d58b4;transform:scaleX(0.9812);">Challenges in Causal Models</div>
<div class="t" id="t11" style="left:37.80px;top:107.06px;font-size:8.4px;font-weight:700;color:#1f4b8c;transform:scaleX(0.9639);">Data</div>
<div class="t" id="t12" style="left:25.60px;top:116.26px;font-size:8.4px;font-weight:700;color:#1f4b8c;transform:scaleX(0.9426);">Availability</div>
<div class="t" id="t13" style="left:34.20px;top:126.98px;font-size:5.9px;font-weight:400;color:#555;transform:scaleX(0.9473);">Limited to</div>
<div class="t" id="t14" style="left:25.20px;top:132.58px;font-size:5.9px;font-weight:400;color:#555;transform:scaleX(0.9566);">synthetic dataset</div>
<div class="t" id="t15" style="left:92.50px;top:111.46px;font-size:8.4px;font-weight:700;color:#1f4b8c;transform:scaleX(0.9388);">Scalability</div>
<div class="t" id="t16" style="left:87.50px;top:126.98px;font-size:5.9px;font-weight:400;color:#555;transform:scaleX(0.9692);">Unconfoundedness</div>
<div class="t" id="t17" style="left:90.30px;top:132.58px;font-size:5.9px;font-weight:400;color:#555;transform:scaleX(0.9487);">positivity trade-off</div>
<div class="t" id="t18" style="left:154.90px;top:107.06px;font-size:8.4px;font-weight:700;color:#1f4b8c;transform:scaleX(0.9766);">Distribution</div>
<div class="t" id="t19" style="left:166.90px;top:116.26px;font-size:8.4px;font-weight:700;color:#1f4b8c;transform:scaleX(0.9198);">Shifts</div>
<div class="t" id="t20" style="left:157.00px;top:126.98px;font-size:5.9px;font-weight:400;color:#555;transform:scaleX(0.9507);">Different domain</div>
<div class="t" id="t21" style="left:161.90px;top:132.58px;font-size:5.9px;font-weight:400;color:#555;transform:scaleX(0.9397);">and test time</div>
<div class="t" id="t22" style="left:30.40px;top:160.40px;font-size:8.0px;font-weight:700;color:#1f4b8c;transform:scaleX(0.9659);">Causality in high-</div>
<div class="t" id="t23" style="left:25.90px;top:169.30px;font-size:8.0px;font-weight:700;color:#1f4b8c;transform:scaleX(0.9693);">dimensional spaces</div>
<div class="t" id="t24" style="left:132.80px;top:160.40px;font-size:8.0px;font-weight:700;color:#1f4b8c;transform:scaleX(1.0043);">A gap between</div>
<div class="t" id="t25" style="left:121.00px;top:169.30px;font-size:8.0px;font-weight:700;color:#1f4b8c;transform:scaleX(0.9756);">research and practice</div>
<div class="t" id="t26" style="left:15.50px;top:192.82px;font-size:10.8px;font-weight:700;color:#1d58b4;transform:scaleX(1.0184);">Uplift Modeling</div>
<div class="t" id="t27" style="left:15.00px;top:207.96px;font-size:7.7px;font-weight:400;color:#575757;transform:scaleX(0.9820);"><b>Uplift modeling</b> aims to identify a subgroup of individuals</div>
<div class="t" id="t28" style="left:14.60px;top:217.76px;font-size:7.7px;font-weight:400;color:#575757;transform:scaleX(0.9599);">with high uplift scores (or Individual Treatment Effect, ITE).</div>
<div class="t" id="t29" style="left:31.60px;top:244.13px;font-size:6.9px;font-weight:400;color:#666;transform:scaleX(0.9556);">Y=0</div>
<div class="t" id="t30" style="left:31.60px;top:277.13px;font-size:6.9px;font-weight:400;color:#666;transform:scaleX(0.9556);">Y=1</div>
<div class="t" id="t31" style="left:14.20px;top:258.94px;font-size:6.9px;font-weight:700;color:#333;transform:scaleX(0.9521);">T=0</div>
<div class="t" id="t32" style="left:80.80px;top:301.44px;font-size:6.9px;font-weight:400;color:#666;transform:scaleX(1.0118);">Y=0</div>
<div class="t" id="t33" style="left:162.40px;top:301.44px;font-size:6.9px;font-weight:400;color:#666;transform:scaleX(0.8913);">Y=1</div>
<div class="t" id="t34" style="left:122.20px;top:308.53px;font-size:6.9px;font-weight:700;color:#333;transform:scaleX(0.9356);">T=1</div>
<div class="t" id="t35" style="left:64.50px;top:246.09px;font-size:8.6px;font-weight:700;color:#1f4b8c;transform:scaleX(0.8687);">Lost Causes</div>
<div class="t" id="t36" style="left:142.50px;top:246.09px;font-size:8.6px;font-weight:700;color:#1f4b8c;transform:scaleX(0.9071);">Persuadables</div>
<div class="t" id="t37" style="left:59.90px;top:271.69px;font-size:8.6px;font-weight:700;color:#1f4b8c;transform:scaleX(0.9014);">Sleeping Dogs</div>
<div class="t" id="t38" style="left:145.60px;top:271.69px;font-size:8.6px;font-weight:700;color:#1f4b8c;transform:scaleX(0.8979);">Sure Things</div>
<div class="t" id="t39" style="left:49.80px;top:288.59px;font-size:4.6px;font-weight:400;color:#2f5aa8;transform:scaleX(1.1159);">Negative uplift</div>
<div class="t" id="t40" style="left:181.20px;top:231.59px;font-size:4.6px;font-weight:400;color:#2f5aa8;transform:scaleX(1.0857);">Positive uplift</div>
<div class="t" id="t41" style="left:15.50px;top:322.52px;font-size:10.8px;font-weight:700;color:#1d58b4;transform:scaleX(0.9952);">Background</div>
<div class="t" id="t42" style="left:14.60px;top:337.48px;font-size:6.5px;font-weight:400;color:#575757;">•</div>
<div class="t" id="t43" style="left:18.90px;top:336.95px;font-size:7.7px;font-weight:400;color:#575757;width:189.10px;text-align:justify;text-align-last:justify;">Data was collected from AFI Inc., a Backend-as-a-Ser-</div>
<div class="t" id="t44" style="left:18.90px;top:346.95px;font-size:7.7px;font-weight:400;color:#575757;transform:scaleX(1.0161);">vice (BaaS) company specializing in <b>mobile games</b>.</div>
<div class="t" id="t45" style="left:14.60px;top:360.28px;font-size:6.5px;font-weight:400;color:#575757;">•</div>
<div class="t" id="t46" style="left:18.90px;top:359.75px;font-size:7.7px;font-weight:400;color:#575757;width:189.10px;text-align:justify;text-align-last:justify;">The company provides APIs for game developers to</div>
<div class="t" id="t47" style="left:18.90px;top:369.65px;font-size:7.7px;font-weight:400;color:#575757;transform:scaleX(1.0157);">release apps without the need for backend servers.</div>
<div class="t" id="t48" style="left:14.60px;top:382.28px;font-size:6.5px;font-weight:400;color:#575757;">•</div>
<div class="t" id="t49" style="left:18.90px;top:381.75px;font-size:7.7px;font-weight:400;color:#575757;transform:scaleX(0.9944);">The goal was to build a model that targets only a subset</div>
<div class="t" id="t50" style="left:18.90px;top:391.65px;font-size:7.7px;font-weight:400;color:#575757;transform:scaleX(1.0126);">of users with high gains from <b>a push message</b>.</div>
<div class="t" id="t51" style="left:14.60px;top:404.28px;font-size:6.5px;font-weight:400;color:#575757;">•</div>
<div class="t" id="t52" style="left:18.90px;top:403.75px;font-size:7.7px;font-weight:400;color:#575757;transform:scaleX(0.9990);">The data used for benchmark is <b>CRUD log data</b>, as the</div>
<div class="t" id="t53" style="left:18.90px;top:413.35px;font-size:7.7px;font-weight:400;color:#575757;width:189.10px;text-align:justify;text-align-last:justify;">company does not collect user-specific information or</div>
<div class="t" id="t54" style="left:18.90px;top:423.65px;font-size:7.7px;font-weight:400;color:#575757;transform:scaleX(1.0084);">have access to game’s code or internal data.</div>
<div class="t" id="t55" style="left:231.70px;top:77.73px;font-size:4.9px;font-weight:400;color:#333;font-style:italic;transform:scaleX(1.0069);">Other Push Notifications</div>
<div class="t" id="t56" style="left:230.00px;top:85.00px;font-size:10px;font-weight:400;color:#333;transform:scaleX(1.0766);font-weight:300;">{</div>
<div class="t" id="t57" style="left:358.50px;top:85.00px;font-size:10px;font-weight:400;color:#333;transform:scaleX(0.8374);">}</div>
<div class="t" id="t58" style="left:298.50px;top:87.89px;font-size:4.6px;font-weight:400;color:#333;font-style:italic;transform:scaleX(1.0872);">No push area</div>
<div class="t" id="t59" style="left:360.00px;top:73.79px;font-size:6.6px;font-weight:400;color:#444;transform:scaleX(0.8906);">Push Notification <span style="font-family:'Liberation Serif',serif;font-size:9px">T</span></div>
<div class="t" id="t60" style="left:406.10px;top:85.56px;font-size:6.4px;font-weight:400;color:#555;transform:scaleX(0.9439);">time</div>
<div class="t" id="t61" style="left:348.60px;top:101.48px;font-size:8.5px;font-weight:400;color:#1a1a1a;transform:scaleX(0.8452);"><span style="font-family:'Liberation Serif',serif;font-weight:700">X</span><span style="font-family:'Liberation Serif',serif;font-size:0.6em">T=1</span></div>
<div class="t" id="t62" style="left:274.70px;top:117.58px;font-size:8.5px;font-weight:400;color:#1a1a1a;transform:scaleX(0.9065);"><span style="font-family:'Liberation Serif',serif;font-weight:700">X</span><span style="font-family:'Liberation Serif',serif;font-size:0.6em">T=0</span></div>
<div class="t" id="t63" style="left:386.90px;top:101.48px;font-size:8.5px;font-weight:400;color:#fff;transform:scaleX(0.8588);"><span style="font-family:'Liberation Serif',serif;">Y</span><span style="font-family:'Liberation Serif',serif;font-size:0.6em">T=1</span></div>
<div class="t" id="t64" style="left:318.00px;top:117.58px;font-size:8.5px;font-weight:400;color:#fff;transform:scaleX(0.9269);"><span style="font-family:'Liberation Serif',serif;">Y</span><span style="font-family:'Liberation Serif',serif;font-size:0.6em">T=0</span></div>
<div class="t" id="t65" style="left:338.70px;top:120.48px;font-size:5.2px;font-weight:400;color:#222;font-style:italic;transform:scaleX(1.0301);">A week prior to <span style="font-family:'Liberation Serif',serif;font-style:normal;font-size:8.5px">T</span></div>
<div class="t" id="t66" style="left:240.60px;top:165.53px;font-size:8.2px;font-weight:400;color:#555;transform:skewY(10.5deg) scaleX(0.7468);transform-origin:0 6.97px;">Game A</div>
<div class="t" id="t67" style="left:259.80px;top:156.53px;font-size:8.2px;font-weight:400;color:#555;transform:skewY(10.5deg) scaleX(0.7488);transform-origin:0 6.97px;">Game B</div>
<div class="t" id="t68" style="left:283.00px;top:148.03px;font-size:8.2px;font-weight:400;color:#555;transform:skewY(10.5deg) scaleX(0.7151);transform-origin:0 6.97px;">Game C</div>
<div class="t" id="t69" style="left:234.00px;top:182.16px;font-size:8.4px;font-weight:700;color:#333;transform:skewY(11deg) scaleX(0.7833);transform-origin:0 7.14px;">Time</div>
<div class="t" id="t70" style="left:380.00px;top:204.99px;font-size:8.6px;font-weight:700;color:#333;transform:rotate(-24.5deg) scaleX(0.7067);transform-origin:0 7.31px;">Different Domains</div>
<div class="t" id="t71" style="left:223.80px;top:222.52px;font-size:10.8px;font-weight:700;color:#1d58b4;transform:scaleX(1.0124);">Backend-TS Dataset</div>
<div class="t" id="t72" style="left:256.80px;top:243.53px;font-size:8.2px;font-weight:700;color:#1f4b8c;transform:scaleX(0.9488);">16.7 million lines of CRUD log data</div>
<div class="t" id="t73" style="left:245.60px;top:252.43px;font-size:8.2px;font-weight:700;color:#1f4b8c;transform:scaleX(0.9791);">from 5,360 users in three mobile games</div>
<div class="t" id="t74" style="left:223.40px;top:268.88px;font-size:6.5px;font-weight:400;color:#575757;">•</div>
<div class="t" id="t75" style="left:228.00px;top:268.35px;font-size:7.7px;font-weight:400;color:#575757;transform:scaleX(1.0059);">Each data point consists of a triple (X, t, y).</div>
<div class="t" id="t76" style="left:223.40px;top:279.48px;font-size:6.5px;font-weight:400;color:#575757;">•</div>
<div class="t" id="t77" style="left:228.00px;top:278.95px;font-size:7.7px;font-weight:400;color:#575757;width:189.00px;text-align:justify;text-align-last:justify;"><b>pseudo-control group</b>: the control group data was</div>
<div class="t" id="t78" style="left:228.00px;top:288.56px;font-size:7.7px;font-weight:400;color:#575757;transform:scaleX(1.0146);">sampled exactly one week prior to the push message.</div>
<div class="t" id="t79" style="left:223.40px;top:301.28px;font-size:6.5px;font-weight:400;color:#575757;">•</div>
<div class="t" id="t80" style="left:228.00px;top:300.75px;font-size:7.7px;font-weight:400;color:#575757;width:189.00px;text-align:justify;text-align-last:justify;"><b>no push area</b>: an -12~+6 hour window around which</div>
<div class="t" id="t81" style="left:228.00px;top:310.95px;font-size:7.7px;font-weight:400;color:#575757;transform:scaleX(0.9467);">no other pushes must exist.</div>
<div class="t" id="t82" style="left:224.30px;top:331.62px;font-size:10.8px;font-weight:700;color:#1d58b4;transform:scaleX(0.9781);">Proposed Tasks</div>
<div class="t" id="t83" style="left:313.60px;top:354.60px;font-size:7.3px;font-weight:700;color:#5a5a5a;transform:scaleX(1.0633);">Different</div>
<div class="t" id="t84" style="left:313.60px;top:363.10px;font-size:7.3px;font-weight:700;color:#5a5a5a;transform:scaleX(1.5024);">Time</div>
<div class="t" id="t85" style="left:352.00px;top:354.60px;font-size:7.3px;font-weight:700;color:#5a5a5a;transform:scaleX(1.0633);">Different</div>
<div class="t" id="t86" style="left:352.00px;top:363.10px;font-size:7.3px;font-weight:700;color:#5a5a5a;transform:scaleX(1.2327);">Game</div>
<div class="t" id="t87" style="left:390.60px;top:354.60px;font-size:7.3px;font-weight:700;color:#5a5a5a;transform:scaleX(1.0265);">Fine-</div>
<div class="t" id="t88" style="left:390.60px;top:363.10px;font-size:7.3px;font-weight:700;color:#5a5a5a;transform:scaleX(1.0629);">tuning</div>
<div class="t" id="t89" style="left:226.00px;top:377.80px;font-size:8px;font-weight:400;color:#444;"><span style="font-weight:700;font-size:8px">ID</span> <span style="color:#8a8a8a;font-size:6.3px">(in-domain)</span><span style="font-weight:700;font-size:8px"></span></div>
<div class="t" id="t90" style="left:226.00px;top:391.50px;font-size:8px;font-weight:400;color:#444;"><span style="font-weight:700;font-size:8px">TS</span> <span style="color:#8a8a8a;font-size:6.3px">(temporal shift)</span><span style="font-weight:700;font-size:8px"></span></div>
<div class="t" id="t91" style="left:226.00px;top:405.10px;font-size:8px;font-weight:400;color:#444;"><span style="font-weight:700;font-size:8px">OOD</span> <span style="color:#8a8a8a;font-size:6.3px">(out-of-domain)</span><span style="font-weight:700;font-size:8px"> w/</span></div>
<div class="t" id="t92" style="left:226.00px;top:418.70px;font-size:8px;font-weight:400;color:#444;"><span style="font-weight:700;font-size:8px">OOD</span> <span style="color:#8a8a8a;font-size:6.3px">(out-of-domain)</span><span style="font-weight:700;font-size:8px"> w/o</span></div>
<div class="t" id="t93" style="left:433.20px;top:73.82px;font-size:10.8px;font-weight:700;color:#1d58b4;transform:scaleX(0.9460);">Baselines</div>
<div class="t" id="t94" style="left:432.70px;top:91.36px;font-size:7.7px;font-weight:400;color:#575757;width:193.30px;text-align:justify;text-align-last:justify;">We used <b>Dragonnet</b> (Shi, Blei, and Veitch, 2019) and</div>
<div class="t" id="t95" style="left:432.70px;top:101.45px;font-size:7.7px;font-weight:400;color:#575757;width:193.30px;text-align:justify;text-align-last:justify;"><b>Siamese network</b> (Mouloud, Olivier, and Ghaith, 2020)</div>
<div class="t" id="t96" style="left:432.70px;top:111.56px;font-size:7.7px;font-weight:400;color:#575757;transform:scaleX(0.9941);">with <b>11 TCN blocks</b> and applied <b>EWC</b> for CL. Time/week</div>
<div class="t" id="t97" style="left:432.70px;top:121.65px;font-size:7.7px;font-weight:400;color:#575757;transform:scaleX(0.9854);">information is embeded with sinosoidal functions, and API</div>
<div class="t" id="t98" style="left:432.70px;top:131.76px;font-size:7.7px;font-weight:400;color:#575757;transform:scaleX(0.9810);">call type (discrete) is embeded with an embedding layer.</div>
<div class="t" id="t99" style="left:433.20px;top:149.42px;font-size:10.8px;font-weight:700;color:#1d58b4;transform:scaleX(1.0137);">Experiments</div>
<div class="t" id="t100" style="left:436.20px;top:169.49px;font-size:6.6px;font-weight:400;color:#4a4a4a;transform:scaleX(1.0741);">Model</div>
<div class="t" id="t101" style="left:471.40px;top:169.49px;font-size:6.6px;font-weight:400;color:#4a4a4a;transform:scaleX(1.1134);">Ckpt</div>
<div class="t" id="t102" style="left:501.50px;top:170.85px;font-size:5px;font-weight:400;color:#4a4a4a;transform:scaleX(0.9000);">ID</div>
<div class="t" id="t103" style="left:535.50px;top:170.85px;font-size:5px;font-weight:400;color:#4a4a4a;transform:scaleX(0.7824);">TS</div>
<div class="t" id="t104" style="left:561.80px;top:170.85px;font-size:5px;font-weight:400;color:#4a4a4a;transform:scaleX(1.1632);">OOD&nbsp;&nbsp;w/</div>
<div class="t" id="t105" style="left:596.20px;top:170.85px;font-size:5px;font-weight:400;color:#4a4a4a;transform:scaleX(1.2109);">OOD w/o</div>
<div class="t" id="t106" style="left:436.20px;top:179.89px;font-size:6.6px;font-weight:400;color:#4a4a4a;transform:scaleX(1.0998);">Dragon</div>
<div class="t" id="t107" style="left:471.40px;top:181.55px;font-size:5px;font-weight:400;color:#4a4a4a;transform:scaleX(1.0557);">VAL</div>
<div class="t" id="t108" style="left:471.40px;top:188.45px;font-size:5px;font-weight:400;color:#4a4a4a;transform:scaleX(0.9775);">MAX</div>
<div class="t" id="t109" style="left:492.00px;top:179.99px;font-size:6.6px;font-weight:400;color:#4a4a4a;transform:scaleX(0.9091);">.091/.056</div>
<div class="t" id="t110" style="left:527.20px;top:179.79px;font-size:6.6px;font-weight:400;color:#4a4a4a;transform:scaleX(0.9382);">.006/.003</div>
<div class="t" id="t111" style="left:527.20px;top:186.99px;font-size:6.6px;font-weight:400;color:#4a4a4a;transform:scaleX(0.9550);">.112/.074</div>
<div class="t" id="t112" style="left:561.80px;top:179.79px;font-size:6.6px;font-weight:400;color:#4a4a4a;transform:scaleX(0.9328);">.118/.038</div>
<div class="t" id="t113" style="left:561.80px;top:186.99px;font-size:6.6px;font-weight:400;color:#4a4a4a;transform:scaleX(0.9164);">.372/.082</div>
<div class="t" id="t114" style="left:596.70px;top:179.79px;font-size:6.6px;font-weight:400;color:#4a4a4a;transform:scaleX(0.9200);">.037/.023</div>
<div class="t" id="t115" style="left:596.70px;top:186.99px;font-size:6.6px;font-weight:400;color:#4a4a4a;transform:scaleX(0.9200);">.123/.081</div>
<div class="t" id="t116" style="left:436.20px;top:197.39px;font-size:6.6px;font-weight:400;color:#4a4a4a;transform:scaleX(1.0056);">Siamese</div>
<div class="t" id="t117" style="left:471.40px;top:198.95px;font-size:5px;font-weight:400;color:#4a4a4a;transform:scaleX(1.0557);">VAL</div>
<div class="t" id="t118" style="left:471.40px;top:205.95px;font-size:5px;font-weight:400;color:#4a4a4a;transform:scaleX(0.9775);">MAX</div>
<div class="t" id="t119" style="left:491.60px;top:197.39px;font-size:6.6px;font-weight:400;color:#4a4a4a;transform:scaleX(0.9200);">.145/.062</div>
<div class="t" id="t120" style="left:525.50px;top:197.39px;font-size:6.6px;font-weight:400;color:#4a4a4a;transform:scaleX(0.8915);">-.036/-.011</div>
<div class="t" id="t121" style="left:527.20px;top:204.59px;font-size:6.6px;font-weight:400;color:#4a4a4a;transform:scaleX(0.9382);">.249/.067</div>
<div class="t" id="t122" style="left:561.80px;top:197.39px;font-size:6.6px;font-weight:400;color:#4a4a4a;transform:scaleX(0.9164);">.154/.057</div>
<div class="t" id="t123" style="left:561.80px;top:204.59px;font-size:6.6px;font-weight:400;color:#4a4a4a;transform:scaleX(0.9164);">.207/.075</div>
<div class="t" id="t124" style="left:594.50px;top:197.39px;font-size:6.6px;font-weight:400;color:#4a4a4a;transform:scaleX(0.9156);">-.057/-.030</div>
<div class="t" id="t125" style="left:596.70px;top:204.59px;font-size:6.6px;font-weight:400;color:#4a4a4a;transform:scaleX(0.9200);">.036/.022</div>
<div class="t" id="t126" style="left:436.20px;top:214.79px;font-size:6.6px;font-weight:400;color:#4a4a4a;transform:scaleX(0.9138);">P (Y &nbsp;= 1)</div>
<div class="t" id="t127" style="left:496.20px;top:214.79px;font-size:6.6px;font-weight:400;color:#4a4a4a;transform:scaleX(0.9276);">11.9%</div>
<div class="t" id="t128" style="left:530.90px;top:214.79px;font-size:6.6px;font-weight:400;color:#4a4a4a;transform:scaleX(0.8715);">12.2%</div>
<div class="t" id="t129" style="left:566.00px;top:214.79px;font-size:6.6px;font-weight:400;color:#4a4a4a;transform:scaleX(0.9181);">5.9%</div>
<div class="t" id="t130" style="left:598.70px;top:214.79px;font-size:6.6px;font-weight:400;color:#4a4a4a;transform:scaleX(0.8715);">22.4%</div>
<div class="t" id="t131" style="left:431.20px;top:230.16px;font-size:7.7px;font-weight:400;color:#575757;transform:scaleX(0.9804);">The table shows <b>QINI</b>s (left) and <b>AUUC</b>s (right) of the best</div>
<div class="t" id="t132" style="left:431.20px;top:240.46px;font-size:7.7px;font-weight:400;color:#575757;transform:scaleX(0.9938);">checkpoint on the holdout set (VAL) and among the entire</div>
<div class="t" id="t133" style="left:431.20px;top:250.46px;font-size:7.7px;font-weight:400;color:#575757;transform:scaleX(0.9725);">training checkpoints (MAX) for each task.</div>
<div class="t" id="t134" style="left:431.20px;top:263.08px;font-size:6.5px;font-weight:400;color:#575757;">•</div>
<div class="t" id="t135" style="left:435.60px;top:262.56px;font-size:7.7px;font-weight:400;color:#575757;width:190.40px;text-align:justify;text-align-last:justify;"><b>TS</b>: The performance gap between VAL and MAX was</div>
<div class="t" id="t136" style="left:435.60px;top:272.56px;font-size:7.7px;font-weight:400;color:#575757;width:190.40px;text-align:justify;text-align-last:justify;">significant, and VAL actually performed worse than</div>
<div class="t" id="t137" style="left:435.60px;top:282.85px;font-size:7.7px;font-weight:400;color:#575757;transform:scaleX(0.9757);">random targeting. This empirically shows the existence of</div>
<div class="t" id="t138" style="left:435.60px;top:292.56px;font-size:7.7px;font-weight:400;color:#575757;transform:scaleX(0.9767);">the temporal distribution changes.</div>
<div class="t" id="t139" style="left:431.20px;top:305.48px;font-size:6.5px;font-weight:400;color:#575757;">•</div>
<div class="t" id="t140" style="left:435.60px;top:304.95px;font-size:7.7px;font-weight:400;color:#575757;transform:scaleX(0.9686);"><b>OOD w/</b>: Fine-tuning with the additional data using the CL</div>
<div class="t" id="t141" style="left:435.60px;top:314.85px;font-size:7.7px;font-weight:400;color:#575757;width:190.40px;text-align:justify;text-align-last:justify;">algorithm has somewhat reduced the performance gap.</div>
<div class="t" id="t142" style="left:435.60px;top:324.95px;font-size:7.7px;font-weight:400;color:#575757;transform:scaleX(0.9887);">We conjecture that the model became more robust since</div>
<div class="t" id="t143" style="left:435.60px;top:335.15px;font-size:7.7px;font-weight:400;color:#575757;transform:scaleX(0.9700);">it further learns common mechanisms.</div>
<div class="t" id="t144" style="left:431.20px;top:347.28px;font-size:6.5px;font-weight:400;color:#575757;">•</div>
<div class="t" id="t145" style="left:435.60px;top:346.75px;font-size:7.7px;font-weight:400;color:#575757;width:190.40px;text-align:justify;text-align-last:justify;"><b>OOD w/o</b>: The performance dropped sharply without</div>
<div class="t" id="t146" style="left:435.60px;top:356.95px;font-size:7.7px;font-weight:400;color:#575757;width:190.40px;text-align:justify;text-align-last:justify;">fine-tuning. We emphasize that the true causal model</div>
<div class="t" id="t147" style="left:435.60px;top:367.45px;font-size:7.7px;font-weight:400;color:#575757;transform:scaleX(0.9594);">should perform equally well and gener-</div>
<div class="t" id="t148" style="left:435.60px;top:377.45px;font-size:7.7px;font-weight:400;color:#575757;width:128.80px;text-align:justify;text-align-last:justify;">alize to different games even without</div>
<div class="t" id="t149" style="left:435.60px;top:387.56px;font-size:7.7px;font-weight:400;color:#575757;transform:scaleX(0.9980);">training, although they may potentially</div>
<div class="t" id="t150" style="left:435.60px;top:397.45px;font-size:7.7px;font-weight:400;color:#575757;transform:scaleX(0.9791);">have a very different user base.</div>
<div class="t" id="t151" style="left:432.40px;top:415.61px;font-size:7.4px;font-weight:700;color:#1d58b4;transform:scaleX(0.9313);">nannullna@kaist.ac.kr</div>
<div class="t" id="t152" style="left:432.40px;top:424.91px;font-size:7.4px;font-weight:700;color:#1d58b4;transform:scaleX(0.9556);">github.com/nannullna/ts4uplift</div>
<div class="t" id="t153" style="left:567.00px;top:426.51px;font-size:7.4px;font-weight:700;color:#1d58b4;transform:scaleX(0.9296);">Download dataset</div>
</body></html>
